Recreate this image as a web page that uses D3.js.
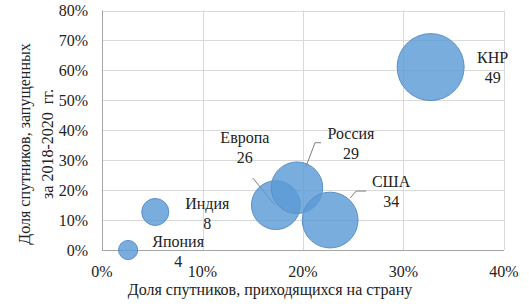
<html>
<head>
<script src="https://cdn.jsdelivr.net/npm/d3@7"></script>
<style>
  body { margin: 0; background: #fff; }
  #preload { position: absolute; left: -2000px; top: 0; font-family: 'Liberation Serif'; font-size: 16px; }
</style>
</head>
<body>
<div id="preload">Доля спутников, приходящихся на страну запущенных за 2018-2020 гг. Япония Индия Европа Россия США КНР 0123456789%</div>
<svg id="chart" width="529" height="306"></svg>
<script>
// data
const countries = ["Япония", "Индия", "Европа", "Россия", "США", "КНР"];
const shareAll = [0.026, 0.053, 0.173, 0.194, 0.227, 0.327];   // x
const shareLaunched = [0.0, 0.127, 0.15, 0.208, 0.10, 0.611];  // y
const bubbleSize = [4, 8, 26, 29, 34, 49];
const xTicks = [0, 0.1, 0.2, 0.3, 0.4];
const yTicks = [0, 0.1, 0.2, 0.3, 0.4, 0.5, 0.6, 0.7, 0.8];

// label placement (offsets from bubble centre, as moved by hand in the original)
const labelDx = [50, 52, -31, 54, 61, 62];
const labelDy = [-3, -3, -62, -49, -33, -4];

const svg = d3.select("#chart");
const plotL = 102, plotR = 504, plotT = 10.5, plotB = 250;

// serif font has to sit on each text element itself
function serif(sel, size) {
  return sel.style("font-family", "'Liberation Serif'")
            .style("font-size", size + "px")
            .attr("fill", "#222");
}

const x = d3.scaleLinear().domain([0, 0.4]).range([plotL, plotR]);
const y = d3.scaleLinear().domain([0, 0.8]).range([plotB, plotT]);
const r = d3.scaleSqrt().domain([0, 49]).range([0, 33.5]);
const pct = d3.format(".0%");

const rows = countries.map((c, i) => ({
  name: c, x: shareAll[i], y: shareLaunched[i], size: bubbleSize[i],
  dx: labelDx[i], dy: labelDy[i]
}));

// grid
const grid = svg.append("g");
grid.selectAll("line.h").data(yTicks.slice(1)).join("line")
  .attr("class", "h")
  .attr("x1", plotL).attr("x2", plotR)
  .attr("y1", d => Math.round(y(d)) + 0.5).attr("y2", d => Math.round(y(d)) + 0.5)
  .attr("stroke", "#d9d9d9");
grid.selectAll("line.v").data(xTicks.slice(1)).join("line")
  .attr("class", "v")
  .attr("y1", plotT).attr("y2", plotB)
  .attr("x1", d => Math.round(x(d)) + 0.5).attr("x2", d => Math.round(x(d)) + 0.5)
  .attr("stroke", "#d9d9d9");

// axis lines
svg.append("line").attr("x1", plotL + 0.5).attr("x2", plotL + 0.5).attr("y1", plotT).attr("y2", plotB)
  .attr("stroke", "#a6a6a6");
svg.append("line").attr("x1", plotL).attr("x2", plotR).attr("y1", plotB + 0.5).attr("y2", plotB + 0.5)
  .attr("stroke", "#a6a6a6");

// tick labels
svg.append("g").selectAll("text").data(yTicks).join("text")
  .attr("x", 88).attr("y", d => y(d) + 5.5)
  .attr("text-anchor", "end")
  .call(serif, 16)
  .text(pct);
svg.append("g").selectAll("text").data(xTicks).join("text")
  .attr("x", d => x(d)).attr("y", 277)
  .attr("text-anchor", "middle")
  .call(serif, 16)
  .text(pct);

// axis titles
svg.append("text").attr("x", 270).attr("y", 295).attr("text-anchor", "middle")
  .call(serif, 16).text("Доля спутников, приходящихся на страну");
const yt = svg.append("text").attr("transform", "translate(0,144) rotate(-90)")
  .attr("text-anchor", "middle").call(serif, 16);
yt.append("tspan").attr("x", 0).attr("y", 30).text("Доля спутников, запущенных");
yt.append("tspan").attr("x", 0).attr("y", 53).text("за 2018-2020\u00a0 гг.");

// leader lines for moved labels
const leaders = [
  { i: 2, pts: [[-1, 0], [-23, -27]] },
  { i: 3, pts: [[9, -21], [18, -45], [24, -45]] },
  { i: 4, pts: [[20, -22], [26, -29], [36, -29]] }
];
const line = d3.line();
svg.append("g").selectAll("path").data(leaders).join("path")
  .attr("d", d => {
    const row = rows[d.i];
    return line(d.pts.map(p => [x(row.x) + p[0], y(row.y) + p[1]]));
  })
  .attr("fill", "none").attr("stroke", "#7f7f7f").attr("stroke-width", 1);

// bubbles
svg.append("g").selectAll("circle").data(rows).join("circle")
  .attr("cx", d => x(d.x)).attr("cy", d => y(d.y)).attr("r", d => r(d.size))
  .attr("fill", "#5b9bd5").attr("fill-opacity", 0.82)
  .attr("stroke", "#5b8fc9").attr("stroke-width", 1);

// data labels
const lab = svg.append("g").selectAll("text").data(rows).join("text")
  .attr("text-anchor", "middle").call(serif, 16);
lab.append("tspan").attr("x", d => x(d.x) + d.dx).attr("y", d => y(d.y) + d.dy).text(d => d.name);
lab.append("tspan").attr("x", d => x(d.x) + d.dx).attr("y", d => y(d.y) + d.dy + 20).text(d => d.size);
</script>
</body>
</html>
